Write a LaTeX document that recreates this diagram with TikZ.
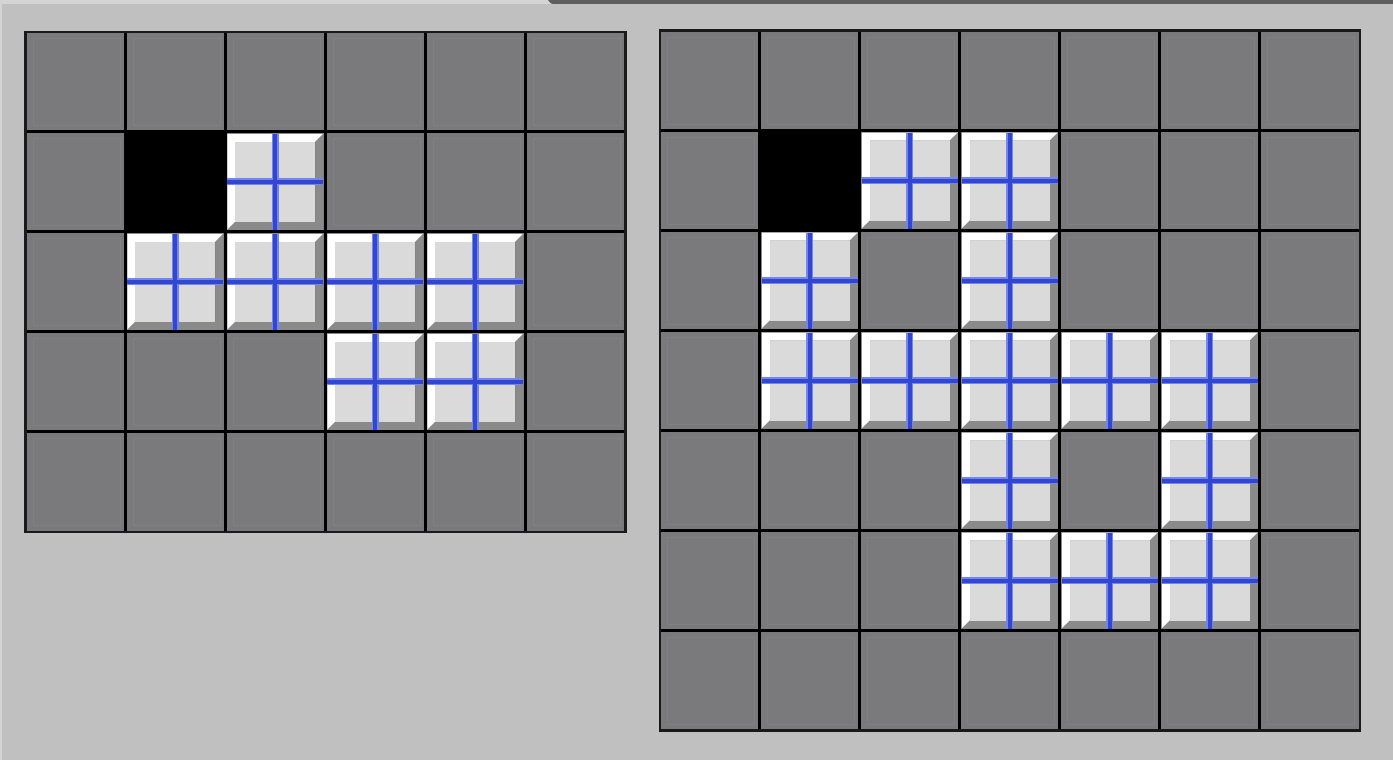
\documentclass[tikz,border=0pt]{standalone}
\definecolor{bg}{HTML}{C0C0C0}
\definecolor{cellgrey}{HTML}{7A797B}
\definecolor{cellfaint}{HTML}{807F81}
\definecolor{face}{HTML}{DADADA}
\definecolor{tileshadow}{HTML}{8A8A8A}
\definecolor{bluedark}{HTML}{3346D0}
\definecolor{bluelight}{HTML}{7286F0}
\definecolor{topstrip}{HTML}{D4D4D4}
\definecolor{topband}{HTML}{5E5E5E}
\tikzset{
  gridline/.style={black, line width=3pt},
  gridborder/.style={black!90, line width=2.5pt},
  faintbox/.style={cellfaint, line width=0.8pt},
  tile/.pic={
    \fill[white] (2,2) -- (98,2) -- (90,10) -- (10,10) -- (10,90) -- (2,98) -- cycle;
    \fill[tileshadow] (98,2) -- (98,98) -- (2,98) -- (10,90) -- (90,90) -- (90,10) -- cycle;
    \fill[face] (10,10) rectangle (90,90);
    \draw[bluelight, line width=7pt] (2,50) -- (98,50) (50,2) -- (50,98);
    \draw[bluedark, line width=4pt] (2,50) -- (98,50) (50,2) -- (50,98);
  },
  hole/.pic={
    \fill[black] (0,0) rectangle (100,100);
  }
}
\begin{document}
\begin{tikzpicture}[x=1pt,y=-1pt]
\useasboundingbox (0,0) rectangle (1393,760);
\fill[bg] (0,0) rectangle (1393,760);
% top strips
\fill[topstrip] (0,0) rectangle (556,4);
\fill[topband] (548,0) -- (1393,0) -- (1393,4) -- (556,4) .. controls (551,4) .. (548,0) -- cycle;
\fill[topstrip] (0,0) rectangle (2,760);

% ---------- left grid: 6 x 5 ----------
\begin{scope}[shift={(25.3,31.8)}]
  \fill[cellgrey] (0,0) rectangle (600,500);
  \foreach \i in {0,...,5}{
    \foreach \j in {0,...,4}{
      \draw[faintbox] (\i*100+8,\j*100+7) rectangle (\i*100+95,\j*100+94);
    }
  }
  \pic at (100,100) {hole};
  \foreach \c/\r in {2/1,1/2,2/2,3/2,4/2,3/3,4/3}{
    \pic at (\c*100,\r*100) {tile};
  }
  \foreach \i in {1,...,5}{ \draw[gridline] (\i*100,0) -- (\i*100,500); }
  \foreach \j in {1,...,4}{ \draw[gridline] (0,\j*100) -- (600,\j*100); }
  \draw[gridborder] (0,0) rectangle (600,500);
\end{scope}

% ---------- right grid: 7 x 7 ----------
\begin{scope}[shift={(659.8,30.5)}]
  \fill[cellgrey] (0,0) rectangle (700,700);
  \foreach \i in {0,...,6}{
    \foreach \j in {0,...,6}{
      \draw[faintbox] (\i*100+8,\j*100+7) rectangle (\i*100+95,\j*100+94);
    }
  }
  \pic at (100,100) {hole};
  \foreach \c/\r in {2/1,3/1,1/2,3/2,1/3,2/3,3/3,4/3,5/3,3/4,5/4,3/5,4/5,5/5}{
    \pic at (\c*100,\r*100) {tile};
  }
  \foreach \i in {1,...,6}{ \draw[gridline] (\i*100,0) -- (\i*100,700); }
  \foreach \j in {1,...,6}{ \draw[gridline] (0,\j*100) -- (700,\j*100); }
  \draw[gridborder] (0,0) rectangle (700,700);
\end{scope}
\end{tikzpicture}
\end{document}
